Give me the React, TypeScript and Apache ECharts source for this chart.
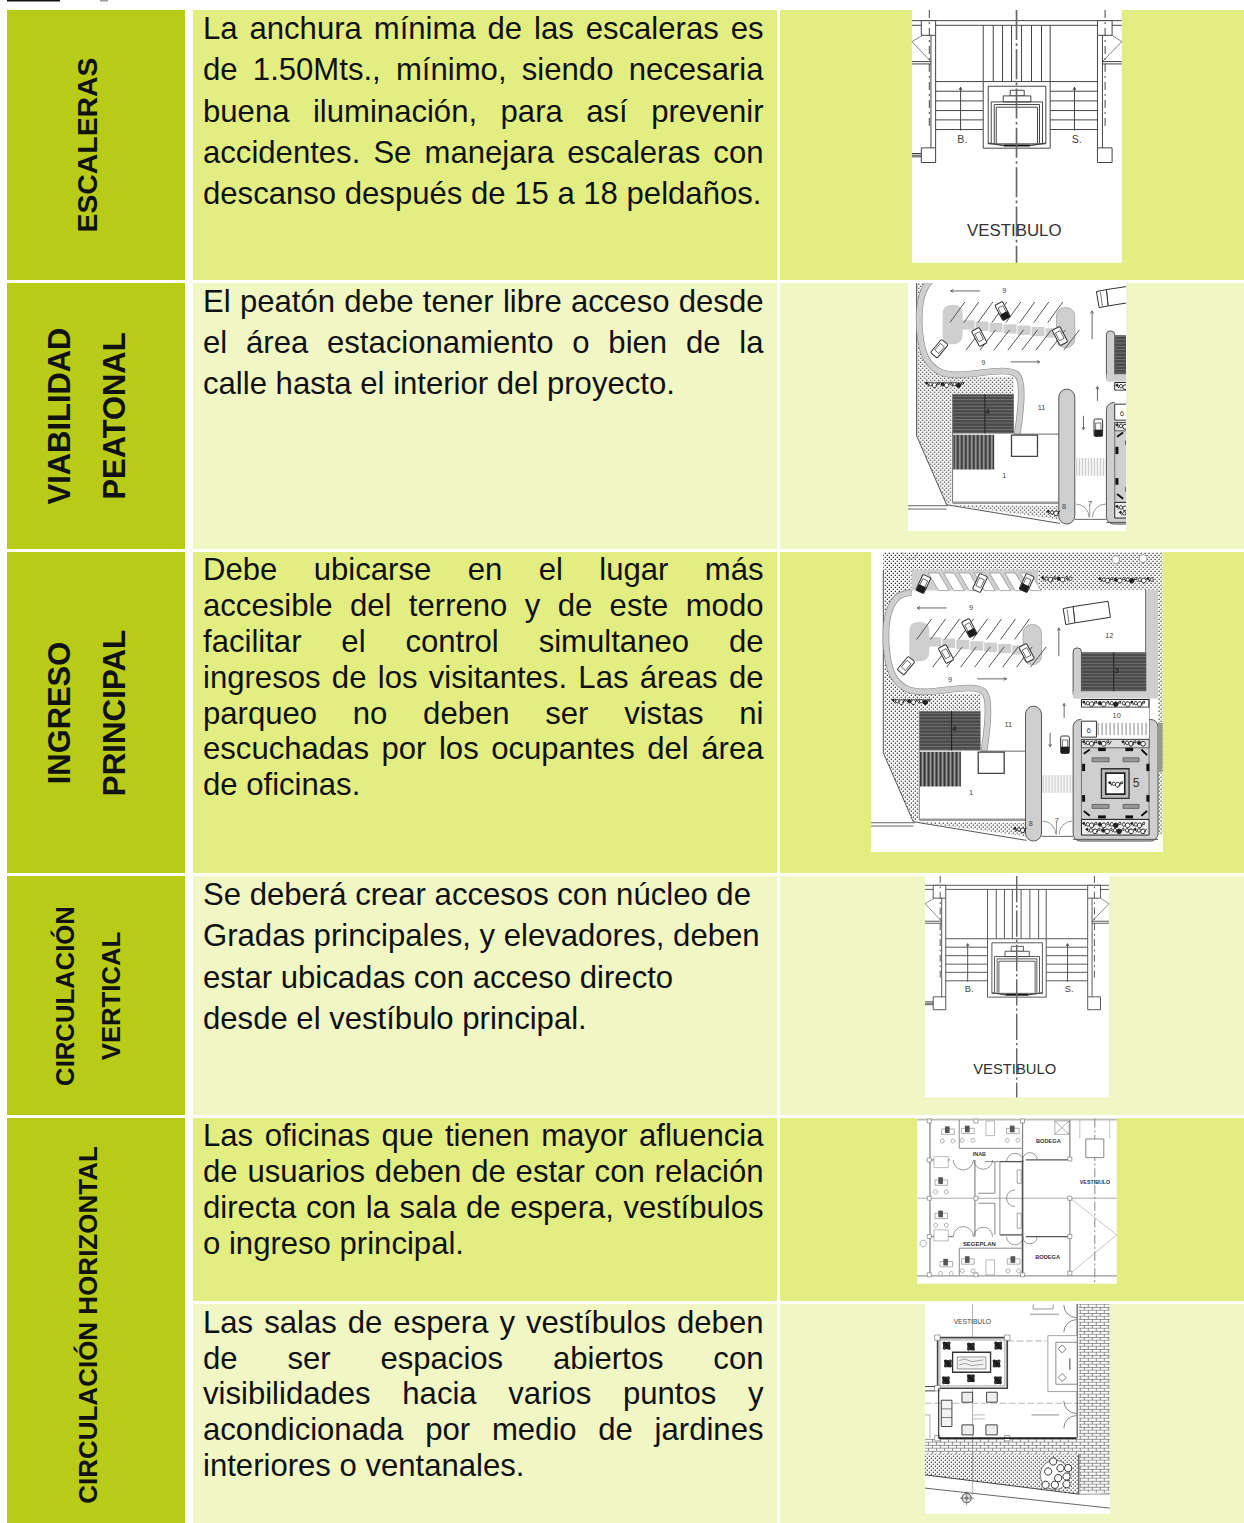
import React, { useEffect, useRef } from "react";
import * as echarts from "echarts";

const rowLabels: string[][] = [
  ["ESCALERAS"],
  ["VIABILIDAD", "PEATONAL"],
  ["INGRESO", "PRINCIPAL"],
  ["CIRCULACIÓN", "VERTICAL"],
  ["CIRCULACIÓN HORIZONTAL"],
];
const textEscaleras = [
  "La anchura mínima de las escaleras es",
  "de 1.50Mts., mínimo, siendo necesaria",
  "buena iluminación, para así prevenir",
  "accidentes. Se manejara escaleras con",
  "descanso después de 15 a 18 peldaños.",
];
const textPeatonal = [
  "El peatón debe tener libre acceso desde",
  "el área estacionamiento o bien de la",
  "calle hasta el interior del proyecto.",
];
const textIngreso = [
  "Debe ubicarse en el lugar más",
  "accesible del terreno y de este modo",
  "facilitar el control simultaneo de",
  "ingresos de los visitantes. Las áreas de",
  "parqueo no deben ser vistas ni",
  "escuchadas por los ocupantes del área",
  "de oficinas.",
];
const textVertical = [
  "Se deberá crear accesos con núcleo de",
  "Gradas principales, y elevadores, deben",
  "estar ubicadas con acceso directo",
  "desde el vestíbulo principal.",
];
const textOficinas = [
  "Las oficinas que tienen mayor afluencia",
  "de usuarios deben de estar con relación",
  "directa con la sala de espera, vestíbulos",
  "o ingreso principal.",
];
const textSalas = [
  "Las salas de espera y vestíbulos deben",
  "de ser espacios abiertos con",
  "visibilidades hacia varios puntos y",
  "acondicionada por medio de jardines",
  "interiores o ventanales.",
];

const DARK = "#B8CB18";
const MID = "#E2EE82";
const LIGHT = "#F0F6C4";
const INK = "#333";
const GREY = "#cfcfcf";
const FONT = "'Liberation Sans', Arial, sans-serif";
const BODY_SIZE = 31.1;

type El = any;
const line = (x1: number, y1: number, x2: number, y2: number, w = 3, c = INK, dash?: number[]): El => ({
  type: "line", silent: true, shape: { x1, y1, x2, y2 }, style: { stroke: c, lineWidth: w, lineDash: dash },
});
const box = (x1: number, y1: number, x2: number, y2: number, fill: any = "none", stroke: any = null, w = 3, r = 0): El => ({
  type: "rect", silent: true, shape: { x: x1, y: y1, width: x2 - x1, height: y2 - y1, r },
  style: { fill: fill === "none" ? "transparent" : fill, stroke, lineWidth: stroke ? w : 0 },
});
const poly = (points: number[][], fill: any = "transparent", stroke: any = null, w = 3, smooth = 0): El => ({
  type: "polygon", silent: true, shape: { points, smooth }, style: { fill, stroke, lineWidth: stroke ? w : 0 },
});
const pline = (points: number[][], stroke: any = INK, w = 3, smooth = 0): El => ({
  type: "polyline", silent: true, shape: { points, smooth }, style: { stroke, lineWidth: w, fill: null },
});
const circ = (cx: number, cy: number, r: number, fill: any = "transparent", stroke: any = INK, w = 3): El => ({
  type: "circle", silent: true, shape: { cx, cy, r }, style: { fill, stroke, lineWidth: stroke ? w : 0 },
});
const arc = (cx: number, cy: number, r: number, a: number, b: number, c = INK, w = 2): El => ({
  type: "arc", silent: true, shape: { cx, cy, r, startAngle: a, endAngle: b }, style: { stroke: c, lineWidth: w, fill: null },
});
const txt = (text: string, x: number, y: number, size: number, fill = "#333", weight = "normal", extra: any = {}): El => ({
  type: "text", silent: true, x, y, ...extra,
  style: { text, x: 0, y: 0, fill, align: "center", verticalAlign: "middle", font: `${weight} ${size}px ${FONT}` },
});
const group = (x: number, y: number, sx: number, sy: number, children: El[]): El => ({
  type: "group", silent: true, x, y, scaleX: sx, scaleY: sy, children,
});
const arrow = (x1: number, y1: number, x2: number, y2: number, c = "#666"): El[] => {
  const a = Math.atan2(y2 - y1, x2 - x1);
  const h = 9;
  return [
    line(x1, y1, x2, y2, 3, c),
    pline([[x2 - h * Math.cos(a - 0.5), y2 - h * Math.sin(a - 0.5)], [x2, y2], [x2 - h * Math.cos(a + 0.5), y2 - h * Math.sin(a + 0.5)]], c, 3),
  ];
};

function pattern(w: number, h: number, draw: (c: CanvasRenderingContext2D) => void): any {
  const cv = document.createElement("canvas");
  cv.width = w;
  cv.height = h;
  draw(cv.getContext("2d") as CanvasRenderingContext2D);
  return { image: cv, repeat: "repeat", imageWidth: w, imageHeight: h };
}
const dots = () =>
  pattern(12, 12, (c) => {
    c.fillStyle = "#fff";
    c.fillRect(0, 0, 12, 12);
    c.fillStyle = "#222";
    c.fillRect(2, 2, 4, 4);
    c.fillRect(8, 8, 4, 4);
  });
const hStripes = () =>
  pattern(4, 10, (c) => {
    c.fillStyle = "#4a4a4a";
    c.fillRect(0, 0, 4, 10);
    c.fillStyle = "#8a8a8a";
    c.fillRect(0, 6, 4, 2);
  });
const vStripes = () =>
  pattern(12, 4, (c) => {
    c.fillStyle = "#333";
    c.fillRect(0, 0, 12, 4);
    c.fillStyle = "#bbb";
    c.fillRect(5, 0, 3, 4);
    c.fillStyle = "#777";
    c.fillRect(10, 0, 2, 4);
  });
const bricks = () =>
  pattern(24, 18, (c) => {
    c.fillStyle = "#fff";
    c.fillRect(0, 0, 24, 18);
    c.fillStyle = "#666";
    c.fillRect(0, 0, 24, 2);
    c.fillRect(0, 9, 24, 2);
    c.fillRect(0, 0, 2, 9);
    c.fillRect(12, 9, 2, 9);
  });

/* stair and lift core, in a 3x working space */
function stairPlan(): El[] {
  const k = "#444";
  const out: El[] = [box(96, 30, 726, 789, "#fff")];
  for (const zx of [310, 340, 368, 395, 425, 455, 485, 511]) out.push(line(zx, 76, zx, 245, 3, k));
  for (const zy of [245, 274, 303, 332, 360, 389]) {
    out.push(line(167, zy, 310, zy, 3, k), line(511, zy, 653, zy, 3, k));
  }
  out.push(
    line(96, 62, 726, 62, 3, k), line(96, 76, 726, 76, 3, k),
    box(124, 62, 167, 106, "#fff", k), box(653, 62, 697, 106, "#fff", k),
    box(124, 444, 167, 488, "#fff", k), box(653, 444, 697, 488, "#fff", k),
    line(153, 106, 153, 444, 3, k), line(167, 106, 167, 444, 3, k),
    line(653, 106, 653, 444, 3, k), line(668, 106, 668, 444, 3, k),
    line(148, 30, 148, 390, 3, k, [24, 12, 6, 12]), line(676, 30, 676, 390, 3, k, [24, 12, 6, 12]),
    line(96, 125, 128, 106, 2, k), line(96, 125, 153, 185, 2, k), line(96, 185, 153, 185, 3, k), line(96, 192, 153, 192, 3, k),
    line(726, 125, 697, 106, 2, k), line(726, 125, 668, 185, 2, k), line(668, 185, 726, 185, 3, k), line(668, 192, 726, 192, 3, k),
    line(96, 461, 124, 461, 3, k), line(96, 466, 124, 466, 3, k), line(96, 471, 124, 471, 3, k),
    box(310, 245, 511, 445, "#fff", k), box(325, 259, 498, 432, "#fff", k),
    box(391, 271, 433, 288, "#fff", k), box(370, 288, 453, 306, "#fff", k),
    pline([[334, 430], [334, 306], [488, 306], [488, 430]], k, 3),
    pline([[343, 430], [343, 314], [479, 314], [479, 430]], k, 3),
    pline([[349, 430], [349, 322], [473, 322], [473, 430]], k, 3),
    line(325, 430, 372, 437, 4, k), line(498, 430, 450, 437, 4, k),
    line(372, 437, 450, 437, 6, "#111"),
    line(410, 30, 410, 789, 5, "#666", [90, 10, 8, 10]),
    ...arrow(242, 392, 242, 262, k), ...arrow(584, 392, 584, 262, k),
    txt("B.", 247, 418, 32, "#444"), txt("S.", 590, 418, 32, "#444"),
    txt("VESTIBULO", 403, 690, 50.6, "#333")
  );
  return out;
}

const car = (cx: number, cy: number, deg: number, dark = false): El => ({
  type: "group", silent: true, x: cx, y: cy, rotation: (deg * Math.PI) / 180,
  children: [
    box(-13, -26, 13, 26, "#fff", "#333", 3, 4),
    box(-8, -14, 8, 12, "#fff", "#333", 2),
    ...(dark ? [box(-12, 6, 12, 26, "#1c1c1c")] : []),
  ],
});
const hedge = (x1: number, x2: number, y: number): El[] => {
  const out: El[] = [];
  let i = 0;
  for (let x = x1; x < x2; x += 12, i++) {
    out.push(circ(x, y + ((i % 3) - 1) * 3, 3 + (i % 3) * 2, i % 4 === 0 ? "#222" : "#fff", "#222", 3));
    if (i % 2 === 0) out.push(line(x + 3, y + 6, x + 11, y - 5, 3, "#222"));
  }
  return out;
};

/* site plan with parking, in a 3x working space */
function parkingPlan(): El[] {
  const d = dots();
  const out: El[] = [];
  out.push(
    box(70, 12, 909, 65, d),
    poly([[70, 65], [155, 65], [155, 135], [115, 150], [85, 190], [72, 250], [75, 320], [92, 385], [130, 425], [180, 438], [362, 438], [362, 490], [175, 490], [175, 815], [160, 822], [70, 615]], d),
    box(155, 65, 535, 128, GREY),
    box(535, 65, 895, 125, d),
    box(895, 65, 909, 860, d),
    box(860, 125, 895, 432, GREY),
    line(858, 125, 858, 312, 3, "#555"),
    line(70, 65, 70, 615, 3, "#555"),
    line(70, 615, 160, 822, 3, "#555")
  );
  for (let i = 0; i < 7; i++) {
    out.push(poly([[205 + i * 46, 75], [236 + i * 46, 75], [268 + i * 46, 128], [236 + i * 46, 128]], "#fff", "#888", 2));
  }
  const curb = [[155, 133], [115, 146], [88, 188], [78, 250], [82, 325], [100, 385], [135, 420], [185, 432], [372, 432], [372, 610]];
  out.push(pline(curb, "#8a8a8a", 20, 0.3), pline(curb, GREY, 16, 0.3));
  out.push(
    box(148, 222, 208, 340, GREY, null, 0, 25),
    box(490, 230, 545, 350, GREY, "#999", 2, 25)
  );
  for (let i = 0; i < 7; i++) out.push(box(205 + i * 42, 268 + i * 4, 244 + i * 42, 296 + i * 4, GREY));
  for (let i = 0; i < 8; i++) {
    out.push(line(170 + i * 42, 275, 215 + i * 42, 213, 3, "#555"), line(218 + i * 42, 358, 265 + i * 42, 297, 3, "#555"));
  }
  out.push(
    car(190, 108, -25, true), car(360, 105, -25), car(500, 105, -25, true),
    car(328, 240, 28, true), car(258, 318, 28), car(500, 315, 28), car(138, 353, -40),
    car(615, 590, 0, true),
    poly([[640, 176], [745, 160], [752, 208], [645, 225]], "#fff", "#333", 3),
    poly([[610, 182], [640, 176], [645, 225], [618, 230]], "#fff", "#333", 3),
    line(622, 184, 628, 226, 2, "#333"),
    ...arrow(260, 180, 172, 180), ...arrow(352, 393, 440, 393), ...arrow(597, 325, 597, 240),
    ...arrow(613, 510, 613, 467), ...arrow(571, 555, 571, 597)
  );
  /* building */
  out.push(
    box(178, 610, 497, 812, "#fff"),
    box(178, 490, 362, 608, hStripes()), line(275, 490, 275, 608, 3, "#222"),
    box(180, 612, 303, 716, vStripes()),
    line(362, 610, 497, 610, 3, "#666"),
    box(355, 613, 433, 677, "#fff", "#444", 4),
    line(178, 816, 497, 816, 7, "#999"),
    line(178, 490, 178, 816, 3, "#777"),
    poly([[165, 822], [497, 826], [497, 866], [345, 845]], d),
    line(33, 825, 165, 825, 3, "#666"), line(33, 835, 160, 835, 3, "#666"), line(160, 822, 500, 878, 3, "#555"),
    box(497, 475, 545, 880, GREY, "#555", 3, 24),
    ...hedge(465, 495, 845)
  );
  /* crosswalk and door */
  out.push(box(547, 682, 640, 735, "#f4f4f4"));
  for (let x = 550; x < 640; x += 9) out.push(line(x, 682, x, 735, 3, "#ccc"));
  out.push(
    arc(548, 860, 40, -Math.PI / 2, 0, "#666"), arc(638, 860, 40, Math.PI, -Math.PI / 2, "#666"),
    line(590, 825, 590, 860, 2, "#666"), line(545, 866, 640, 866, 3, "#666")
  );
  /* right block */
  out.push(
    box(640, 300, 665, 450, GREY, "#555", 3, 12),
    line(640, 432, 660, 450, 3, "#555"),
    box(640, 430, 895, 452, GREY),
    box(665, 313, 860, 430, hStripes()), line(762, 313, 762, 430, 3, "#222"),
    box(665, 455, 868, 478, "#fff", "#222", 3),
    ...hedge(672, 862, 466),
    box(640, 515, 895, 880, GREY, "#555", 3, 22),
    line(868, 452, 868, 575, 3, "#555"),
    box(665, 480, 868, 572, "#fff"),
    box(665, 520, 710, 568, "#fff", "#333", 3),
    box(665, 575, 868, 815, GREY, "#444", 2),
    box(665, 575, 868, 600, "#ddd", "#222", 2),
    ...hedge(672, 750, 585), ...hedge(790, 862, 585),
    box(665, 815, 868, 862, "#eee", "#222", 3),
    ...hedge(672, 862, 830), ...hedge(682, 862, 848),
    box(725, 663, 808, 752, "#bbb", "#333", 4),
    box(738, 676, 795, 739, "#fff", "#222", 5),
    ...hedge(750, 790, 708),
    box(697, 630, 748, 642, "#999", "#444", 2), box(790, 630, 838, 642, "#999", "#444", 2),
    box(697, 770, 748, 782, "#999", "#444", 2), box(790, 770, 838, 782, "#999", "#444", 2),
    box(715, 600, 738, 610, "#111"), box(797, 600, 820, 610, "#111"),
    box(715, 803, 738, 812, "#111"), box(797, 803, 820, 812, "#111"),
    box(667, 648, 676, 670, "#111"), box(667, 742, 676, 762, "#111"),
    box(860, 648, 869, 670, "#111"), box(860, 742, 869, 762, "#111"),
    line(672, 618, 690, 605, 6, "#111"), line(845, 605, 862, 622, 6, "#111"),
    line(672, 790, 690, 804, 6, "#111"), line(845, 804, 862, 790, 6, "#111"),
    box(895, 525, 909, 672, "#999"),
    line(640, 875, 895, 875, 3, "#555")
  );
  for (let x = 715; x < 868; x += 12) out.push(line(x, 525, x, 562, 3, "#888"));
  out.push(
    ...hedge(548, 640, 92), ...hedge(720, 880, 95),
    ...hedge(100, 215, 460),
    arc(150, 12, 22, 0, Math.PI, "#999", 2), circ(768, 35, 12, "#fff", "#666", 2), circ(850, 32, 12, "#fff", "#666", 2),
    txt("9", 333, 178, 22, "#444"), txt("9", 270, 393, 22, "#444"), txt("12", 748, 263, 22, "#444"),
    txt("11", 445, 530, 22, "#444"), txt("1", 333, 732, 22, "#444"), txt("10", 770, 503, 22, "#444"),
    txt("6", 686, 548, 24, "#444"), txt("5", 828, 705, 36, "#333"), txt("4", 283, 540, 22, "#111"),
    txt("3", 770, 366, 22, "#111"), txt("8", 512, 827, 22, "#444"), txt("7", 590, 818, 24, "#444")
  );
  return out;
}

const desk = (x: number, y: number): El[] => [
  box(x, y, x + 38, y + 16, "#fff", "#888", 2),
  box(x + 10, y - 8, x + 24, y + 12, "#555"),
  circ(x + 2, y + 36, 6, "#fff", "#888", 2),
  circ(x + 34, y + 36, 6, "#fff", "#888", 2),
];

/* office floor, in a 3x working space */
function officePlan(): El[] {
  const k = "#8a8a8a";
  const s = "#555";
  const out: El[] = [box(52, 10, 651, 507, "#fff")];
  out.push(
    line(52, 14, 651, 14, 5, "#bbb"), line(52, 483, 651, 483, 4, "#999"), line(52, 250, 651, 250, 3, "#aaa"),
    line(90, 14, 90, 483, 4, k), line(225, 135, 225, 365, 5, "#aaa"), line(368, 14, 368, 135, 4, k), line(368, 135, 368, 483, 5, s),
    line(510, 250, 510, 480, 5, "#aaa"), line(510, 14, 510, 135, 4, k),
    line(90, 135, 150, 135, 4, k), line(300, 140, 368, 140, 4, s), line(378, 135, 510, 135, 4, s),
    line(90, 365, 160, 365, 4, k), line(300, 360, 368, 360, 4, s), line(378, 365, 510, 365, 4, s),
    line(178, 100, 368, 100, 3, k), line(178, 400, 368, 400, 3, k),
    line(178, 14, 178, 100, 3, k), line(178, 400, 178, 483, 3, k),
    line(300, 140, 300, 360, 3, k), line(255, 140, 300, 140, 3, k), line(235, 235, 285, 235, 3, k), line(235, 265, 285, 265, 3, k),
    line(285, 140, 285, 235, 3, k), line(285, 265, 285, 360, 3, k),
    line(512, 250, 651, 360, 2, "#aaa"), line(512, 475, 651, 360, 2, "#aaa"),
    line(585, 10, 585, 507, 3, "#888", [28, 8, 6, 8])
  );
  for (const [x, y] of [[88, 18], [88, 135], [88, 250], [88, 365], [88, 480], [228, 18], [228, 250], [228, 480], [368, 18], [368, 480], [510, 132], [510, 250], [510, 365], [510, 475]]) {
    out.push(box(x - 6, y - 6, x + 6, y + 6, "#fff", "#777", 2));
  }
  out.push(
    ...desk(125, 42), ...desk(185, 40), ...desk(320, 40), ...desk(105, 195), ...desk(105, 295), ...desk(120, 440), ...desk(185, 432), ...desk(322, 432),
    box(102, 125, 145, 158, "#fff", "#999", 2), box(102, 345, 145, 378, "#fff", "#999", 2),
    box(258, 18, 284, 62, "#fff", "#999", 2), box(258, 435, 284, 480, "#fff", "#999", 2),
    arc(190, 135, 30, 0, Math.PI, "#666"), arc(250, 135, 28, 0, Math.PI, "#666"),
    arc(190, 365, 30, Math.PI, 0, "#666"), arc(250, 365, 28, Math.PI, 0, "#666"),
    arc(345, 140, 25, Math.PI, 0, "#666"), arc(390, 135, 22, Math.PI, 0, "#666"),
    arc(345, 365, 25, 0, Math.PI, "#666"), arc(390, 365, 22, 0, Math.PI, "#666"),
    arc(345, 250, 25, Math.PI / 2, (3 * Math.PI) / 2, "#666"),
    box(352, 165, 364, 205, "#fff", "#777", 2), box(352, 295, 364, 340, "#fff", "#777", 2),
    box(465, 18, 508, 58, "#fff", "#888", 2), line(465, 18, 508, 58, 2, "#888"), line(508, 18, 465, 58, 2, "#888"),
    box(558, 72, 612, 128, "#fff", "#888", 3), line(540, 14, 540, 70, 2, "#aaa"), line(630, 14, 630, 70, 2, "#aaa"),
    circ(70, 386, 10, "#fff", "#888", 2),
    txt("BODEGA", 445, 78, 17, "#333", "bold"), txt("BODEGA", 443, 427, 17, "#333", "bold"),
    txt("VESTIBULO", 585, 202, 16, "#333", "bold"), txt("SEGEPLAN", 238, 386, 18, "#333", "bold"), txt("INAB", 238, 116, 16, "#333", "bold")
  );
  return out;
}

/* lobby, in a 3x working space */
function lobbyPlan(): El[] {
  const d = dots();
  const b = bricks();
  const k = "#444";
  const out: El[] = [box(75, 27, 630, 657, "#fff")];
  out.push(
    poly([[537, 27], [630, 27], [630, 597], [540, 590], [537, 478]], b),
    box(75, 432, 537, 478, b),
    poly([[75, 478], [537, 478], [537, 598], [75, 542]], d),
    line(75, 540, 537, 598, 3, "#444"), line(537, 598, 630, 598, 2, "#666"), line(75, 580, 630, 640, 3, "#666"),
    line(537, 478, 537, 598, 3, "#333"),
    line(218, 27, 218, 600, 2, "#888"),
    line(322, 138, 440, 138, 2, "#888", [20, 8]), line(75, 325, 537, 325, 2, "#999", [20, 8]),
    box(113, 128, 322, 280, "#fff", k, 5), box(120, 135, 315, 273, "#fff", "#777", 2),
    box(158, 172, 272, 232, "#fff", "#333", 4), box(172, 186, 258, 222, "#f2f2f2", "#666", 2),
    pline([[178, 197], [195, 192], [215, 200], [250, 195]], "#777", 2), pline([[178, 210], [195, 205], [215, 212], [250, 208]], "#777", 2)
  );
  for (const [x, y] of [[140, 152], [213, 155], [295, 152], [144, 206], [290, 206], [138, 256], [213, 250], [294, 256]]) {
    out.push(
      circ(x, y, 11, "#1c1c1c", null), circ(x - 7, y - 7, 5, "#222", null), circ(x + 7, y + 7, 5, "#222", null),
      circ(x + 7, y - 7, 5, "#333", null), circ(x - 7, y + 7, 5, "#333", null)
    );
  }
  for (const [x, y] of [[112, 128], [322, 128], [112, 280], [112, 430], [322, 430]]) {
    out.push(box(x - 8, y - 8, x + 8, y + 8, "#fff", "#777", 2));
  }
  out.push(
    line(116, 280, 116, 430, 4, k), line(116, 430, 530, 430, 5, "#222"), line(75, 275, 105, 275, 3, k), line(75, 288, 105, 288, 3, k),
    line(532, 27, 532, 430, 3, "#333"), line(75, 360, 90, 360, 2, "#888"), line(90, 360, 90, 430, 2, "#888"),
    box(186, 292, 218, 322, "#eee", k, 3), box(260, 292, 292, 322, "#eee", k, 3),
    box(186, 390, 220, 420, "#eee", k, 3), box(258, 390, 292, 420, "#eee", k, 3),
    box(124, 316, 156, 395, "#f4f4f4", k, 3), line(124, 342, 156, 342, 2, k), line(124, 368, 156, 368, 2, k),
    box(444, 122, 532, 290, "#fff", "#777", 2), box(468, 142, 532, 268, "#fff", "#555", 2),
    poly([[487, 150], [499, 162], [487, 174], [475, 162]], "#fff", "#444", 2),
    poly([[487, 236], [499, 248], [487, 260], [475, 248]], "#fff", "#444", 2),
    line(510, 190, 510, 225, 4, "#777"),
    arc(530, 30, 38, Math.PI / 2, Math.PI, "#444"), arc(530, 112, 38, Math.PI, -Math.PI / 2, "#444"),
    arc(530, 318, 38, Math.PI / 2, Math.PI, "#444"), arc(530, 400, 38, Math.PI, -Math.PI / 2, "#444"),
    line(400, 28, 400, 42, 2, "#666"), line(400, 42, 460, 42, 2, "#666"), line(460, 28, 460, 42, 2, "#666"),
    line(390, 58, 478, 58, 5, "#bbb"), line(395, 360, 478, 360, 5, "#bbb"), line(220, 360, 255, 360, 4, "#ccc"), line(220, 372, 255, 372, 4, "#ccc"),
    txt("VESTIBULO", 217, 78, 20, "#444")
  );
  out.push(circ(465, 540, 44, "#fff", "#444", 2));
  for (const [x, y] of [[460, 500], [482, 520], [505, 520], [445, 530], [475, 550], [500, 545], [500, 568], [437, 570], [465, 570]]) {
    out.push(circ(x, y, 11, "#fff", "#333", 3));
  }
  out.push(circ(200, 610, 14, "#ddd", "#444", 3), line(180, 610, 222, 610, 2, "#666"), line(200, 590, 200, 632, 2, "#666"), circ(200, 610, 5, "#777", null));
  return out;
}

let measureCtx: CanvasRenderingContext2D | null = null;
function widthOf(s: string): number {
  if (!measureCtx) measureCtx = document.createElement("canvas").getContext("2d");
  (measureCtx as CanvasRenderingContext2D).font = `${BODY_SIZE}px ${FONT}`;
  return (measureCtx as CanvasRenderingContext2D).measureText(s).width;
}
const bodyText = (s: string, x: number, y: number): El => ({
  type: "text", silent: true, x, y,
  style: { text: s, x: 0, y: 0, fill: "#111", align: "left", verticalAlign: "middle", font: `${BODY_SIZE}px ${FONT}` },
});
function paragraph(lines: string[], centres: number[], justified: boolean): El[] {
  const L = 203;
  const R = 763.5;
  const out: El[] = [];
  lines.forEach((s, i) => {
    if (!justified || i === lines.length - 1) {
      out.push(bodyText(s, L, centres[i]));
      return;
    }
    const words = s.split(" ");
    const total = words.reduce((a, w) => a + widthOf(w), 0);
    const gap = (R - L - total) / (words.length - 1);
    let x = L;
    for (const w of words) {
      out.push(bodyText(w, x, centres[i]));
      x += widthOf(w) + gap;
    }
  });
  return out;
}
const rotated = (s: string, x: number, y: number, size: number): El =>
  txt(s, x, y, size, "#111", "bold", { rotation: Math.PI / 2 });

function buildElements(): El[] {
  const els: El[] = [];
  /* second-row plan sits under the later panels, which trim it to its picture */
  els.push(box(780, 283, 1244, 549, LIGHT), box(908, 283, 1126, 531, "#fff"));
  els.push(group(893.3, 231, 1 / 3, 1 / 3, parkingPlan()));
  els.push(
    box(780, 283, 908, 549, LIGHT), box(1126, 283, 1244, 549, LIGHT), box(780, 531, 1244, 549, LIGHT),
    box(770, 279, 1244, 283, "#fff")
  );

  /* column panels */
  els.push(
    box(7, 10, 185, 280, DARK), box(7, 283, 185, 549, DARK), box(7, 552, 185, 873, DARK),
    box(7, 876, 185, 1115, DARK), box(7, 1118, 185, 1523, DARK),
    box(193, 10, 777, 280, MID), box(780, 10, 1244, 280, MID),
    box(193, 283, 777, 549, LIGHT),
    box(193, 552, 777, 873, MID), box(780, 552, 1244, 873, MID),
    box(193, 876, 777, 1115, LIGHT), box(780, 876, 1244, 1115, LIGHT),
    box(193, 1118, 777, 1301, MID), box(780, 1118, 1244, 1301, MID),
    box(193, 1304, 777, 1523, LIGHT), box(780, 1304, 1244, 1523, LIGHT),
    box(7, 0, 60, 1.5, "#111"), box(100, 0, 108, 1.5, "#999")
  );

  /* row titles */
  els.push(
    rotated(rowLabels[0][0], 87, 145, 28.4),
    rotated(rowLabels[1][0], 59, 416, 30.9), rotated(rowLabels[1][1], 114, 416, 30.9),
    rotated(rowLabels[2][0], 59, 713, 30.9), rotated(rowLabels[2][1], 114, 713, 31.3),
    rotated(rowLabels[3][0], 65, 996, 25.7), rotated(rowLabels[3][1], 111, 996, 25.7),
    rotated(rowLabels[4][0], 88, 1325, 26)
  );

  /* row texts */
  els.push(
    ...paragraph(textEscaleras, [28, 69, 111, 152, 193], true),
    ...paragraph(textPeatonal, [301, 342, 383], true),
    ...paragraph(textIngreso, [569, 605, 641, 677, 713, 748, 784], true),
    ...paragraph(textVertical, [894, 935, 977, 1018], false),
    ...paragraph(textOficinas, [1135, 1171, 1207, 1243], true),
    ...paragraph(textSalas, [1322, 1358, 1393, 1429, 1465], true)
  );

  /* plans */
  els.push(group(880, 0, 1 / 3, 1 / 3, stairPlan()));
  els.push(box(871, 552, 1163, 852, "#fff"));
  els.push(group(860, 548, 1 / 3, 1 / 3, parkingPlan()));
  els.push(group(897, 867.2, 0.292, 0.292, stairPlan()));
  els.push(group(900, 1115, 1 / 3, 1 / 3, officePlan()));
  els.push(group(900, 1295, 1 / 3, 1 / 3, lobbyPlan()));
  return els;
}

export default function App() {
  const ref = useRef<HTMLDivElement>(null);
  useEffect(() => {
    document.body.style.margin = "0";
    const chart = echarts.init(ref.current as HTMLDivElement, undefined, { renderer: "svg" });
    chart.setOption({
      animation: false,
      backgroundColor: "#fff",
      graphic: { elements: buildElements() },
    });
    return () => chart.dispose();
  }, []);
  return <div ref={ref} style={{ position: "absolute", left: 0, top: 0, width: 1244, height: 1523 }} />;
}
